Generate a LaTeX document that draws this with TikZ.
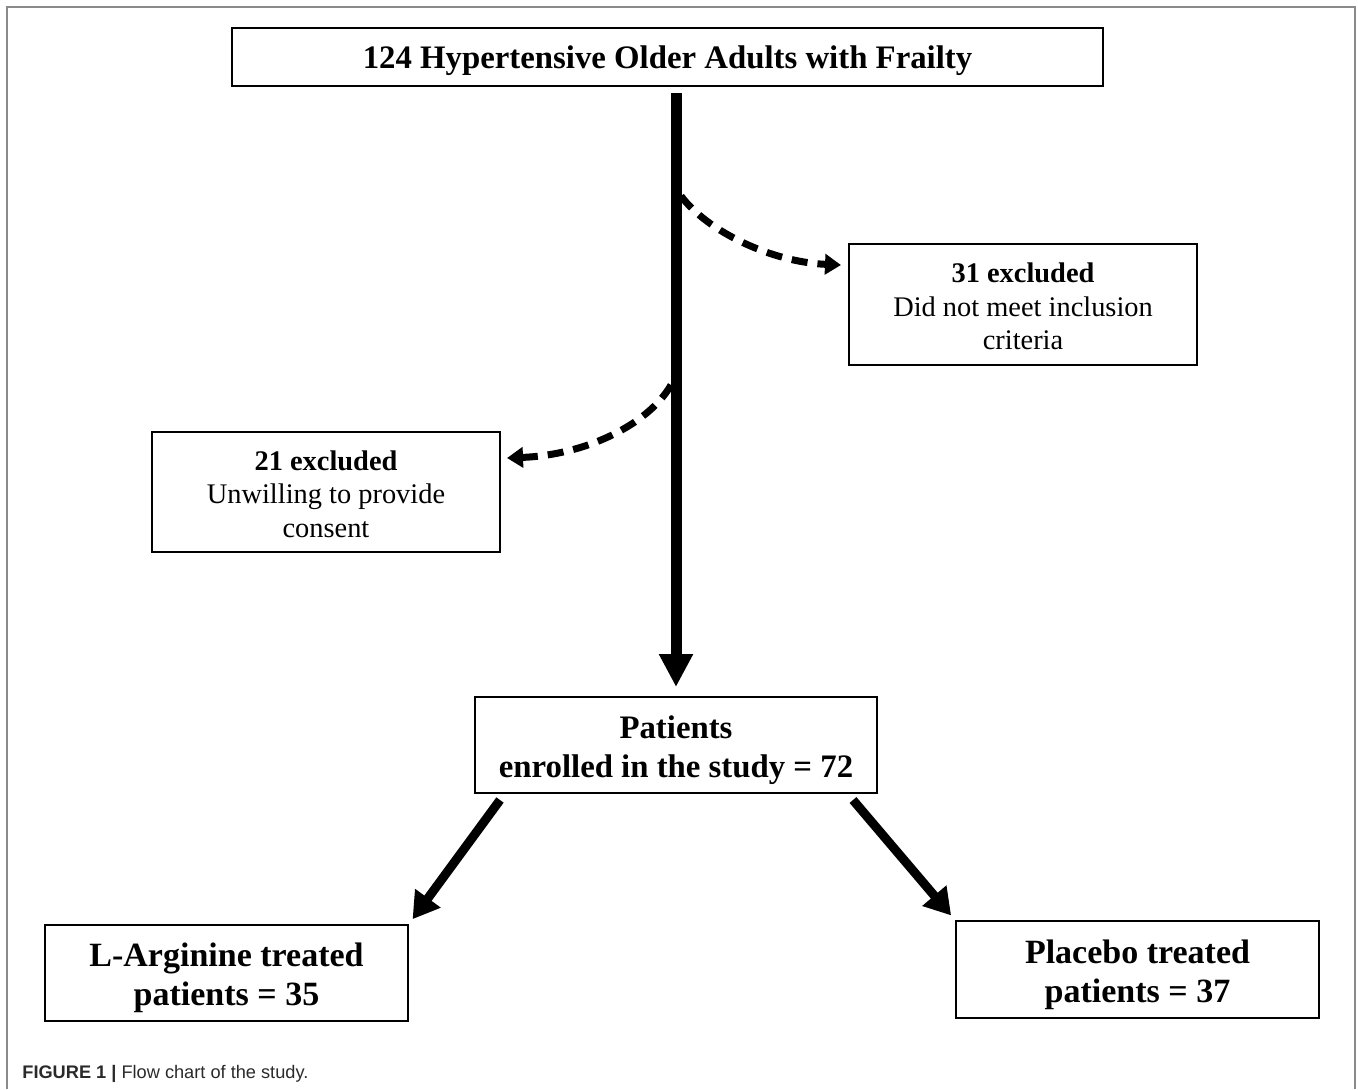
\documentclass[tikz,border=0pt]{standalone}
\usepackage{fontspec}
\setmainfont{Liberation Serif}
\setsansfont{Liberation Sans}
\usetikzlibrary{arrows.meta}
\definecolor{framegray}{HTML}{8A8A8A}
\definecolor{captiongray}{HTML}{2A2A2A}
\newcommand{\firstgap}[1]{\rule{0pt}{\dimexpr0.69em+#1\relax}}

\begin{document}
\begin{tikzpicture}[x=0.5pt, y=-0.5pt,
    box/.style={draw, line width=1pt, inner sep=0pt, align=center},
    bigtext/.style={font=\fontsize{16.4}{19.5}\selectfont\bfseries},
    armtext/.style={font=\fontsize{17}{19.5}\selectfont\bfseries},
    smalltext/.style={font=\fontsize{14.2}{16.8}\selectfont},
    exclarrow/.style={line width=3.5pt, dash pattern=on 8pt off 5pt, -{Triangle[width=10pt,length=8pt]}},
    splitarrow/.style={line width=4.5pt, -{Triangle[width=15pt,length=13pt]}}]
                \useasboundingbox (0,0) rectangle (1358,1089);
                \draw[framegray, line width=1pt] (7,1089) -- (7,7) -- (1355,7) -- (1355,1089);
                \node[box, bigtext, minimum width=435.5pt, minimum height=29pt] (cohort) at (667.5,57) {\firstgap{4pt}124 Hypertensive Older Adults with Frailty};
                \node[box, smalltext, minimum width=174pt, minimum height=60.5pt] (exclA) at (1023,304.5) {\firstgap{2pt}\textbf{31 excluded}\\Did not meet inclusion\\criteria};
                \node[box, smalltext, minimum width=174pt, minimum height=60pt] (exclB) at (326,492) {\firstgap{2pt}\textbf{21 excluded}\\Unwilling to provide\\consent};
                \node[box, bigtext, minimum width=201pt, minimum height=48pt] (enrolled) at (676,745) {\firstgap{5pt}Patients\\enrolled in the study = 72};
                \node[box, armtext, minimum width=181.5pt, minimum height=48pt] (arginine) at (226.5,973) {\firstgap{5pt}L-Arginine treated\\patients = 35};
                \node[box, armtext, minimum width=181.5pt, minimum height=48.5pt] (placebo) at (1137.5,969.5) {\firstgap{5pt}Placebo treated\\patients = 37};
                \coordinate (trunkA) at (681,196);
                \coordinate (tipA) at (841,265);
                \coordinate (trunkB) at (671,385);
                \coordinate (tipB) at (507,458);
                \coordinate (fromL) at (500,800);
                \coordinate (fromR) at (853,800);
                \draw[line width=5.5pt, -{Triangle[width=16pt,length=16.5pt]}, shorten <=3pt, shorten >=4.5pt] (cohort.south -| enrolled.north) -- (enrolled.north);
                \draw[exclarrow] (trunkA) .. controls (708,232) and (772,262) .. (tipA);
                \draw[exclarrow] (trunkB) .. controls (648,425) and (585,455) .. (tipB);
                \draw[splitarrow, shorten >=3pt] (fromL) -- (arginine.north east);
                \draw[splitarrow, shorten >=3pt] (fromR) -- (placebo.north west);
                \node[anchor=west, inner sep=0pt, text=captiongray, font=\sffamily\fontsize{9.1}{11}\selectfont] (caption) at (22,1074) {\textbf{FIGURE 1 |} Flow chart of the study.};
            \end{tikzpicture}
\end{document}
